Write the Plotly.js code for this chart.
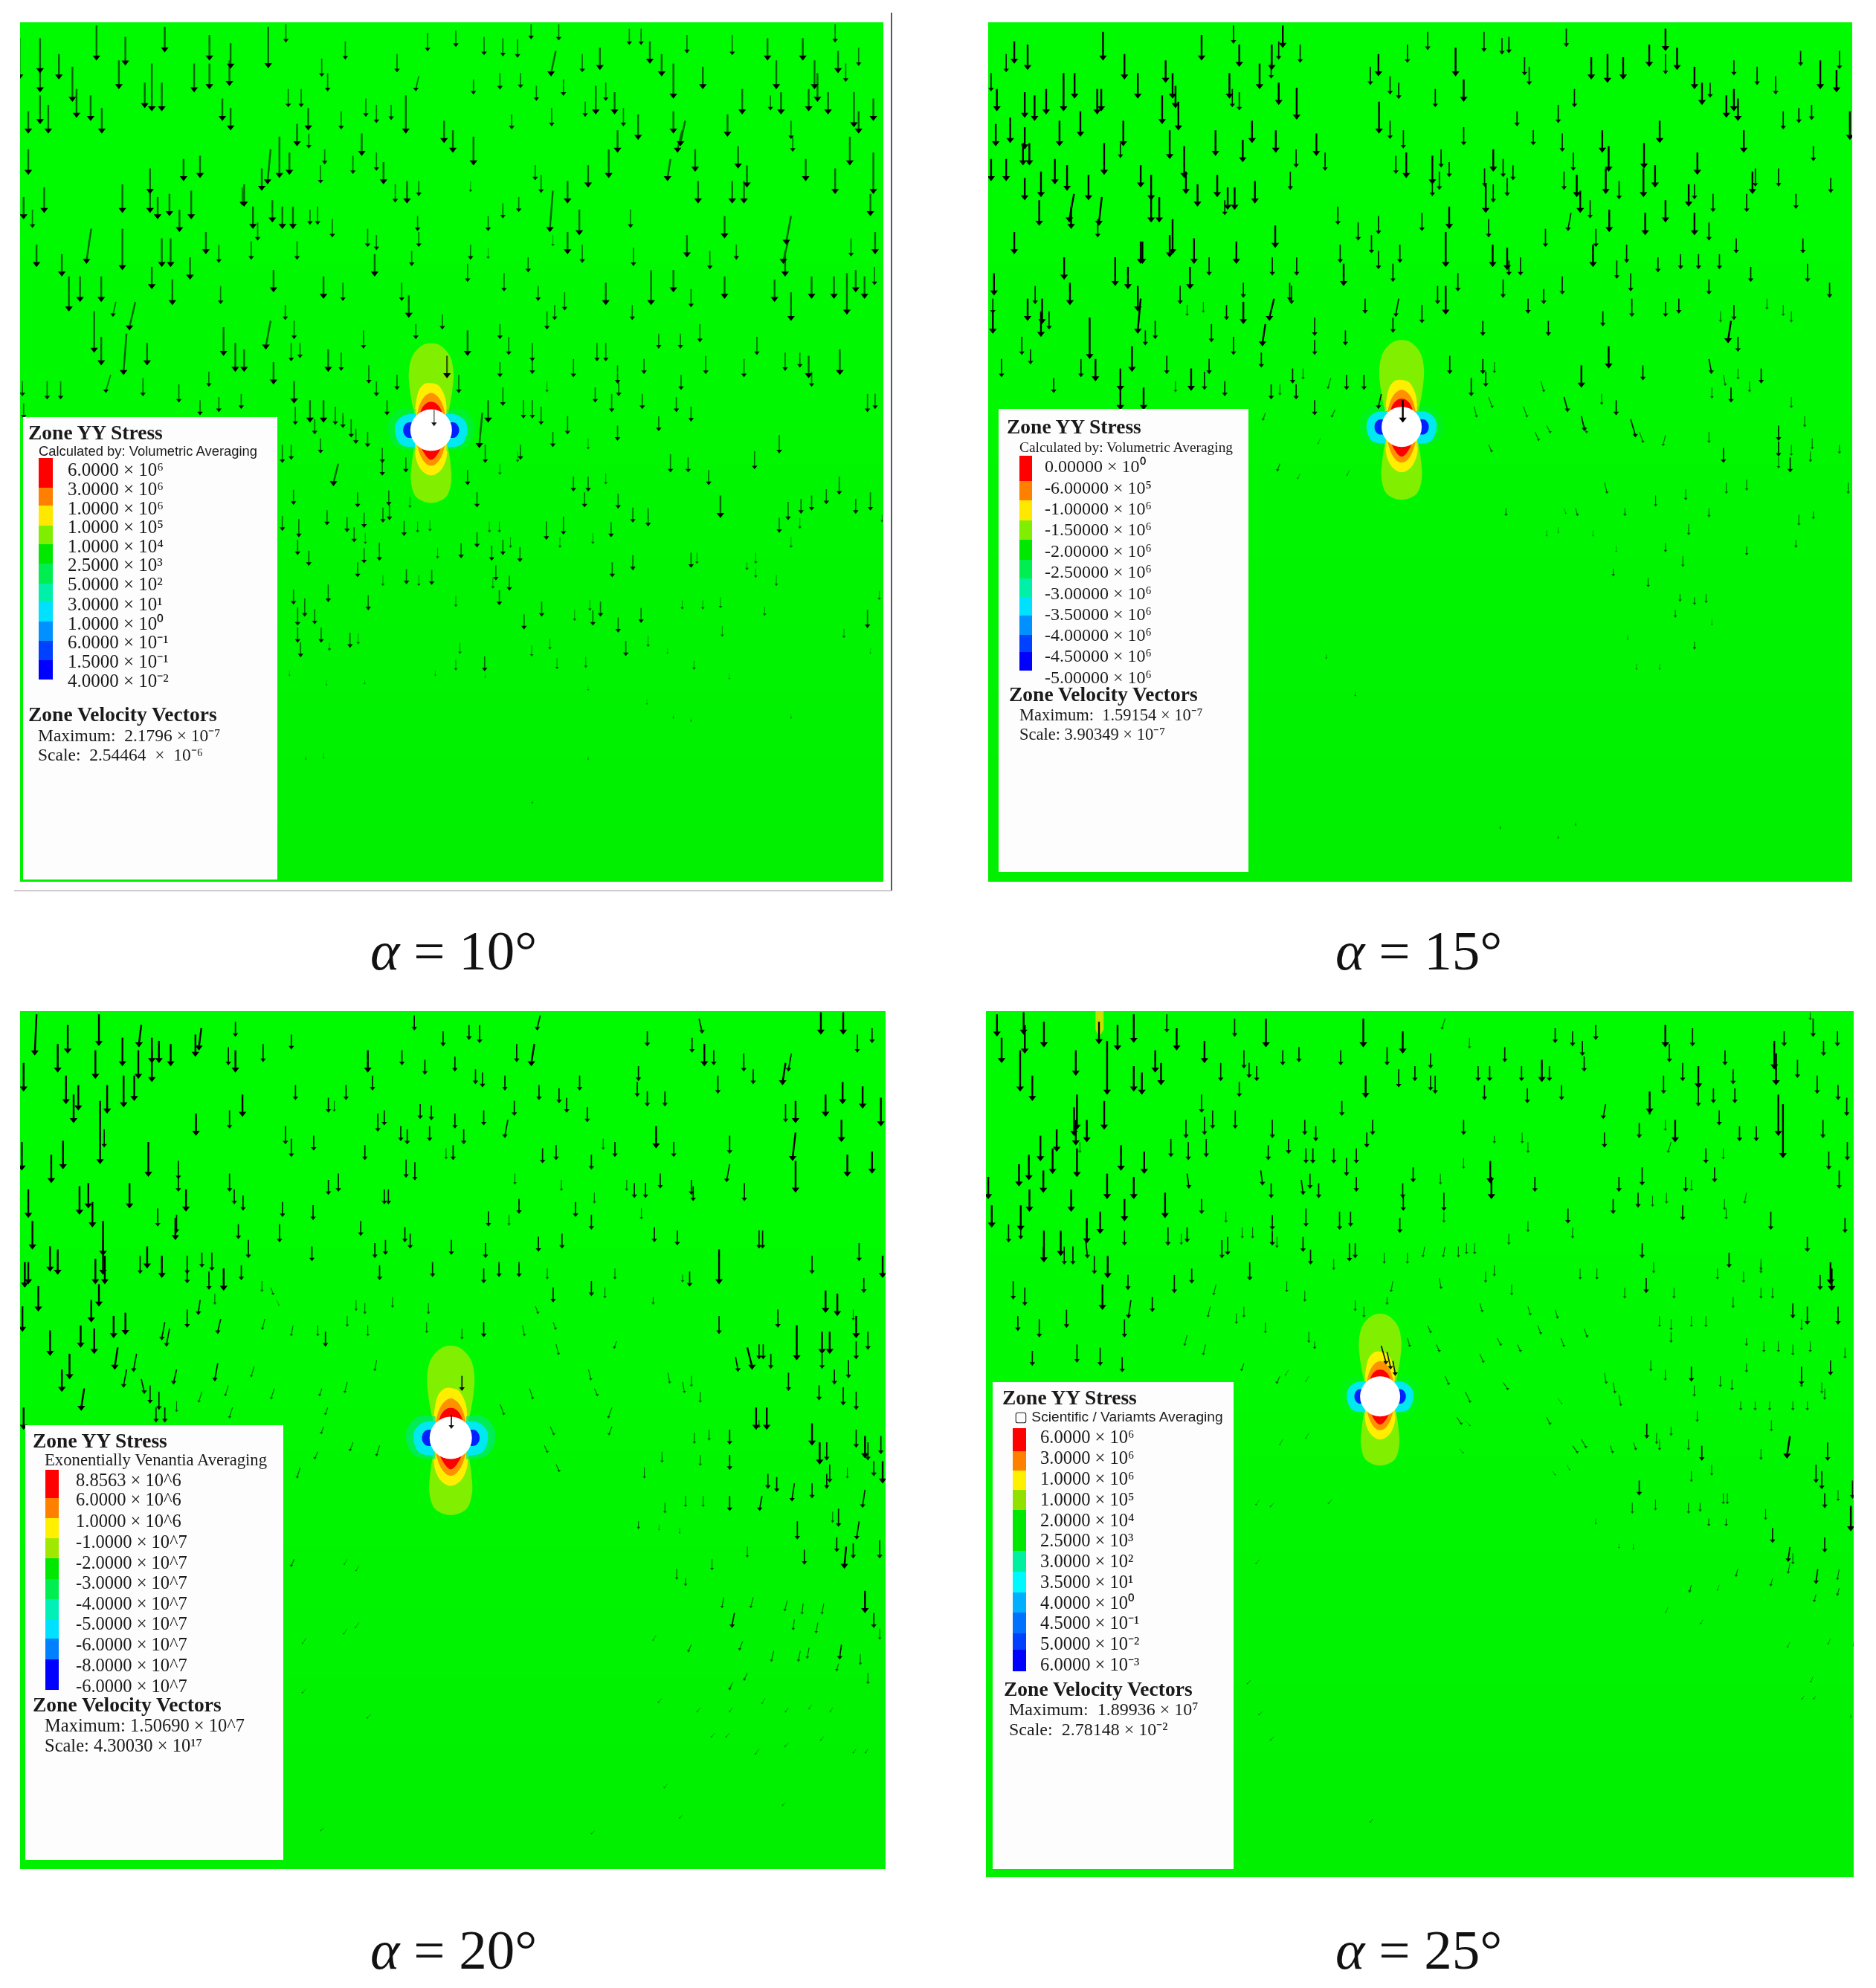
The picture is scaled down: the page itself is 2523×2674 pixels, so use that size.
<!DOCTYPE html>
<html><head><meta charset="utf-8">
<script src="https://cdn.plot.ly/plotly-3.0.1.min.js"></script>
<style>html,body{margin:0;padding:0;background:#fff}</style></head>
<body><div id="chart" style="width:2523px;height:2674px"></div>
<script>
// ---------- panel frames (pixels on the page) and axis ranges (reading units) ----------
const panelAngles = ["10","15","20","25"];
const panelLeft   = [27,1329,27,1326];
const panelRight  = [1188,2491,1191,2493];
const panelTop    = [30,30,1360,1360];
const panelBottom = [1186,1186,2514,2525];
const rangeX = [[34,1502],[37,1527],[34,1505],[33,1530]];
const rangeY = [[1388,35],[1388,35],[1380,23],[1392,23]];
const holeX = [733,750,766,713];
const holeY = [677,672,698,632];
const holeDiameter = [56,54,57,54];
const lobeScale = [1,1,1.06,0.95];
const sideScale = [1,0.97,1.03,0.92];
const tealOpacity = [0.35,0.2,0.7,0.15];
const lineFade = [0.6,1,1,1];
const captionX = [610,1908,610,1908];
const captionY = [1278,1278,2622,2622];

// ---------- stress bands around the hole: offsets in page pixels ----------
const topOuter   = [[-22,-18],[-28,-50],[-30,-78],[-25,-100],[-12,-114],[0,-117],[12,-114],[25,-100],[30,-78],[28,-50],[22,-18]];
const topYellow  = [[-22,-15],[-20,-40],[-15,-56],[-7,-63],[2,-63],[10,-60],[19,-43],[21,-15]];
const topOrange  = [[-20,-15],[-15,-35],[-8,-46],[0,-50],[8,-46],[15,-35],[20,-15]];
const topRed     = [[-16,-18],[-12,-30],[-5,-37],[0,-38],[5,-37],[12,-30],[16,-18]];
const botOuter   = [[-22,18],[-26,45],[-27,70],[-20,90],[0,98],[20,90],[27,70],[26,45],[22,18]];
const botYellow  = [[-22,15],[-20,40],[-12,55],[0,61],[12,55],[20,40],[22,15]];
const botOrange  = [[-20,15],[-14,35],[-7,45],[0,48],[7,45],[14,35],[20,15]];
const botRed     = [[-15,20],[-10,30],[-4,38],[0,40],[4,38],[10,30],[15,20]];
const sideTeal   = [[-20,-28],[-42,-28],[-56,-14],[-58,4],[-48,22],[-20,28]];
const sideCyan   = [[-20,-22],[-36,-20],[-47,-10],[-48,6],[-40,20],[-22,23]];
const sideBlue   = [[-22,-10],[-32,-10],[-37,-4],[-37,4],[-32,10],[-22,10]];
const bandOuterColor = "#80F000", bandYellow = "#FFEE00", bandOrange = "#FF9000", bandRed = "#FF0000";
const sideTealColor = "#00E878", sideCyanColor = "#00E8F0", sideBlueColor = "#0020FF";
const streak25X = [222,236,236,228,222];
const streak25Y = [23,23,52,64,52];
const greenRows = [1,1,0.95,0.8,0.7,0.6];

// ---------- velocity arrows: [x, y of tail, length, sideways drift] ----------
const arrows10 = [
[33,60,60],[68,60,50],[68,100,40],[100,85,35],[123,105,50],[164,40,50],[213,58,40],[280,42,35],[202,95,40],[258,100,70],[246,130,35],[275,130,40],[330,100,40],[356,55,35],[356,100,35],[392,68,35],[390,95,35],[456,42,60],[486,38,25],[547,92,25],[557,115,25],[587,65,25],[675,85,25],[727,52,25],[775,48,22],[823,58,25],[855,60,25],[880,62,25],[903,38,20],[950,38,22],[945,80,35,-8],[990,85,25],[1020,75,30],[1070,45,22],[1090,45,22],[1105,65,30],[1125,85,30],[1145,100,50],[1168,55,25],[1195,105,30],[1245,55,28],[1305,60,30],[1320,95,40],[1365,60,30],[1385,95,40],[1420,38,25],[1425,80,30],[1438,100,25],[1460,75,25],
[48,175,30],[68,150,40],[82,165,40],[130,140,40],[154,150,35],[173,170,35],[378,155,30],[392,170,30],[490,140,25],[512,140,25],[524,170,30],[580,175,25],[622,155,25],[640,165,25],[665,165,20],[690,150,55],[712,120,20,-5],[805,125,20],[850,115,22],[885,115,20],[912,135,20],[938,170,25],[958,125,22],[995,160,20],[1013,135,40],[1030,130,25],[1045,145,30],[1060,170,25],[1085,180,35],[1145,175,30],[1165,190,35,-8],[1237,180,30],[1262,140,35],[1310,150,20],[1328,145,30],[1345,190,25],[1375,140,30],[1390,115,40],[1408,145,30],[1452,145,50],[1460,175,30],[1485,155,30],
[48,235,35],[255,265,35],[312,250,30],[340,245,30],[415,290,30],[445,265,30],[460,235,50,-5],[475,215,60],[492,240,30],[505,195,30],[525,210,20],[545,260,25],[552,235,20],[600,245,25],[615,210,30],[640,240,25],[652,255,30],[672,290,25],[692,285,30],[712,285,20],[770,205,30],[805,215,40],[755,190,30],[870,180,20],[910,260,20],[920,275,25],[1000,260,30],[1035,235,40],[1050,205,30],[1140,250,30,-5],[1160,205,30,-8],[1182,235,30],[1187,285,30],[1255,230,30],[1270,260,30],[1245,285,30],[1265,285,30],[1348,215,20],[1370,250,30],[1420,265,35],[1445,215,40],[1485,240,60],[1480,305,30],
[40,310,30],[55,330,25],[75,295,35],[208,290,40],[255,300,30],[268,310,30],[288,305,30],[305,330,30],[325,300,40],[412,295,25],[430,325,30],[438,350,25],[463,315,30],[480,325,30],[498,325,30],[527,330,20],[540,325,25],[565,345,25],[625,360,25],[710,340,20],[800,285,15],[830,340,20],[855,320,20],[882,310,20],[940,300,60,-5],[965,285,30],[985,330,35],[1072,330,25],[1232,340,30],[1345,340,40,-8],[1340,380,30,-8],
[155,360,50,-8],[208,360,60],[62,385,30],[105,400,30],[275,375,40],[290,375,40],[350,365,30],[372,385,25],[427,380,25],[505,380,25],[640,370,20],[700,395,20],[712,365,20],[800,385,20],[830,390,15],[898,405,20],[940,370,15],[965,365,30],[990,385,25],[1077,390,25],[1168,370,30],[1207,395,25],[1252,385,20],[1335,395,35],[1447,375,25],[1488,365,30],
[117,435,50],[136,435,35],[172,435,35],[258,420,30],[293,440,35],[323,405,30],[375,450,25],[465,425,30],[550,435,30],[583,445,25],[637,400,30],[683,445,25],[695,465,30],[795,415,25],[857,430,25],[915,450,20],[960,460,25],[1030,445,30],[1075,480,20],[1107,425,50],[1145,425,30],[1175,455,25],[1232,435,30],[1317,440,30],[1345,460,40],[1380,435,30],[1418,435,30],[1440,430,60],[1455,425,30],[1470,435,30],[1487,420,25],
[160,490,60],[197,475,20,-5],[230,475,40,-10],[172,530,40],[215,525,60,-5],[250,540,30],[380,515,40],[400,540,40],[415,550,30],[460,505,40,-8],[485,480,20],[500,505,25],[510,540,20],[495,540,25],[558,550,30],[580,555,25],[618,520,25],[707,510,20],[752,495,20],[795,520,35],[850,510,20],[865,530,25],[905,540,25],[930,490,25],[943,480,20],[1015,540,25],[1030,540,25],[1120,525,20],[1157,525,20],[1190,510,25],[1200,560,25],[1287,530,25],[1265,565,25],[1335,555,25],[1360,555,20],[1375,560,30],[1428,550,35],
[188,590,25,-8],[243,595,25],[355,585,20],[304,605,25],[465,570,30],[500,600,30],[627,575,25],[675,590,20],[850,570,20],[905,565,20],[975,565,25],[1050,575,25],[1095,565,20],[1158,590,20],[1380,585,20],
[38,600,20],[80,600,25],[103,600,25],[40,635,20],[340,630,20],[372,625,20],[410,620,20],[502,640,25],[527,630,30],[550,630,30],[570,640,25],[583,650,20],[597,660,25],[640,600,20],[658,630,20],[760,560,30],[780,590,25],[830,630,30],[855,610,25],[890,630,25],[905,630,25],[920,640,25],[930,600,15],[965,655,25],[1012,610,20],[1040,620,25],[1052,600,20],[1092,620,20],[1120,655,20],[1150,625,20],[1175,640,20],[1475,620,25],[1488,620,20],[1325,685,25],
[480,700,25],[495,700,20],[535,660,20],[545,690,20],[605,675,20],[625,680,20],[650,705,20],[820,650,50,-5],[885,700,20],[940,680,20],[1000,690,15],[1050,670,20],[1283,710,25],[1140,715,25],[1170,720,20],
[575,730,30,-8],[650,725,20],[690,720,20],[795,740,20],[825,700,25],[850,730,15],[880,710,15],[975,750,20],[1000,750,20],[1030,745,15],
[1205,740,20],[1225,780,30],[1340,790,25],[1362,785,20],[1380,780,20],[1405,770,20],[1427,750,25],[1455,785,20],[1480,775,25],[1325,815,20],[1360,815,15],[1500,810,10],
[1175,870,20],[1185,870,15],[1285,870,15],[1270,885,10],[1345,845,15],[1320,905,15],[1285,895,12],[1225,940,15],[1160,945,12],[1195,945,12],[1228,985,15],[1300,955,12],[1435,990,12],[1475,960,25],[1495,930,12],[1180,1040,12],[1240,1060,8],[1480,1020,8],[1135,1020,8],
[499,771,20],[608,775,20],[661,772,20],[697,782,15],[811,775,20],[1051,777,20],[994,775,20],[556,803,20],[590,814,20],[619,807,20],[651,799,20],[662,795,20],[480,812,20],[508,817,25],[687,820,20],[710,821,15],[731,819,15],[832,821,15],[849,821,15],[929,821,25],[958,813,25],[1039,822,20],[1076,799,20],[1102,800,25],[602,830,20],[621,839,15],[1008,839,15],[811,838,20],[868,845,15],[645,854,25],[506,850,20],[619,863,20],[525,867,20],[744,862,15],[784,855,20],[855,850,20],[836,859,20],[884,861,20],[952,845,15],[1076,874,20],[608,885,20],[691,896,20],[734,897,20],[651,905,15],[712,905,15],[843,890,20],[866,906,20],[838,909,15],[1041,885,20],[558,920,24],[499,928,20],[518,942,25],[626,937,20],[775,938,15],[849,929,20],[921,947,20],[1003,944,15],[1021,947,20],[977,960,15],[1090,957,20],[1008,961,20],[506,956,25],[535,959,20],[891,967,20],[1051,972,20],[506,988,20],[546,988,20],[595,996,20],[609,997,15],[560,1012,10],[511,1011,20],[782,1012,15],[935,1005,15],[1102,1001,15],[1064,1009,20],[824,1033,20],[775,1038,15],[947,1036,15],[996,1034,15],[904,1016,15],
[492,1055,8],[555,1070,8],[620,1070,6],[740,1055,8],[825,1060,6],[1000,1080,6],[1100,1100,8],[1145,1125,5],[1345,1125,5],[1175,1130,5],[550,1185,8],[520,1190,5],[1000,1190,5],[905,1260,4],
[738,645,22]
];
const arrows15 = [
[460,40,25],[545,40,30],[68,85,25],[82,65,30],[105,70,35],[235,50,40],[405,55,35],[470,70,30],[526,70,35],[538,65,25],[575,70,25],[760,70,25],[795,50,25],[892,50,28],[923,60,22],[935,58,22],[1034,45,25],[1177,70,30],[1205,45,30],[1205,85,28],[1225,75,30],[1438,80,20],[1472,95,40],[1505,80,25],
[272,85,35],[343,95,30],[696,105,25],[710,85,30],[843,75,40],[962,90,25],[970,105,25],[1077,90,30],[1105,85,40],[1132,90,30],[1255,105,30],[1323,95,20],[1363,105,25],[1395,120,25],[1500,110,30],
[42,115,25],[52,140,30],[100,145,35],[117,150,35],[137,140,35],[167,115,55],[186,115,35],[225,140,35],[232,140,30],[295,115,35],[355,115,35],[360,135,30],[453,115,35],[505,100,35],[525,100,20],[458,140,25],[470,145,25],[538,130,30],[569,138,45],[730,120,25],[745,130,22],[808,140,25],[857,125,30],[1048,140,25],[1268,130,30],[1282,130,20],[1310,150,30],[1323,140,30],[1330,155,30],
[337,150,40],[365,160,40],[196,175,35],[711,160,45],[730,190,25],[1020,165,25],[949,175,20],[1408,175,25],[1435,170,20],[1457,165,20],[1523,175,40],
[50,195,30],[75,185,35],[160,190,35],[100,200,30],[270,190,35],[350,205,40],[429,205,35],[492,190,30],[533,205,30],[603,210,30],[753,205,25],[857,200,25],[977,205,20],[1027,210,25],[1096,205,30],[1195,190,30],[1340,205,30],[1460,230,20],
[97,225,30],[108,225,30],[237,225,45],[265,225,20],[375,230,45],[476,220,30],[568,235,25],[618,240,25],[740,245,25],[758,240,35],[803,245,40],[818,235,25],[832,255,20],[893,265,25],[908,235,30],[925,250,25],[942,260,20],[1046,240,25],[1107,230,35],[1168,225,35],[1260,240,30],[1360,265,25],
[42,250,30],[68,250,30],[152,250,35],[173,260,35],[300,260,30],[128,270,35],[185,305,40,-8],[210,275,35],[318,275,35],[378,270,30],[432,275,30],[450,295,30],[462,295,30],[497,285,30],[558,270,25],[803,280,25],[815,270,25],[1030,270,25],[1052,275,30],[1102,265,35],[1125,285,25],[1167,265,40],[1187,260,30],[1245,290,30],[1255,290,20],[1355,270,30],[1400,265,25],[1490,280,20],
[100,280,30],[233,310,40,-5],[398,290,30],[318,310,35],[332,310,35],[445,315,20],[895,290,40],[908,290,25],[932,280,25],[1058,300,30],[1075,315,25],[1042,335,25,-5],[1108,330,30],[1170,335,30],[1205,315,30],[1287,305,25],[1345,305,25],[1430,305,20],
[125,315,35],[180,325,30],[640,325,25],[710,340,25],[832,325,30],[785,335,25],[900,345,25],[1255,335,30],[1280,350,25],
[82,365,30],[226,345,25],[532,355,30],[355,345,50],[350,370,30],[392,375,35],[303,380,30],[465,380,30],[675,350,25],[826,365,50],[698,370,25],[644,385,25],[710,395,25],[747,385,25],[907,385,30],[998,360,25],[1080,385,30],[1085,360,25],[1138,385,25],[1327,375,20],[1442,375,20],
[168,405,30],[256,405,40],[278,420,30],[300,380,30],[418,405,25],[527,405,25],[569,405,25],[650,415,30],[735,415,25],[932,390,30],[935,410,20],[955,405,25],[1121,410,25],[1145,430,25],[1192,405,20],[1231,400,20],[1262,400,20],[1298,400,20],[1352,420,20],[1450,415,25],
[47,430,30],[178,445,30],[295,450,35],[385,420,30],[477,445,20],[557,445,25],[847,430,25],[812,450,25],[826,450,40],[925,440,25],[995,455,20],[1027,435,25],[1280,440,20],[1488,445,20],
[45,470,20],[105,470,30],[118,450,25],[130,470,35],[142,490,25],[300,470,50,-5],[368,450,25],[380,480,15],[408,475,15],[448,480,20],[477,475,30],[530,470,30,-8],[560,450,25],[687,470,20],[745,470,25,-5],[785,480,25],[968,470,20],[1097,490,20],[1147,470,25],[1205,475,20],[1228,470,20],[1323,480,20],[1380,470,15],[1408,480,15],[1422,490,15],[1300,490,15],
[45,490,30],[128,490,35],[212,500,60],[325,505,25],[422,510,25],[515,510,30,-5],[600,500,25],[735,500,20],[890,505,20],[1003,505,20],[1318,505,30,-5],
[95,530,25],[308,520,20],[460,530,25],[600,535,20],[653,520,20],[1107,545,30],[1330,530,20],
[60,565,25],[110,550,20],[285,545,35],[197,565,25],[222,565,30],[265,580,30],[345,560,25],[387,580,30],[410,585,25],[418,565,20],[508,555,20],[562,580,20],[580,580,15],[833,560,25],[890,565,20],[910,570,15],[1060,575,30],[1166,575,20],[1280,565,20,4],[1305,590,15,3],[1330,580,15],[1370,580,20],
[150,595,20],[360,600,15],[445,600,20],[525,605,20],[540,605,15],[568,605,20],[600,630,20],[628,595,15,-5],[655,590,20],[685,590,20],[715,620,20,-5],[870,595,25],[895,585,20],[990,600,15,5],[1030,625,20,6],[1095,620,15],[1120,630,20],[1285,610,15],[1318,610,20],[1350,600,15],[1422,625,15],
[265,610,30],[305,610,30],[635,645,10,-5],[875,640,15,4],[900,625,15,6],[960,640,15,6],[1060,655,20,5],[1145,660,25,8],[1280,680,15],[1400,670,20],[1445,655,15],
[515,650,10,-4],[610,690,8,-4],[980,680,12,6],[1000,670,10,6],[1205,685,15,-4],[1305,705,20],[1160,680,15,6],[1400,695,20],[1422,700,15],[1458,690,15],[1505,700,12],[1065,670,10,4],
[540,730,10,-4],[575,745,8,-4],[660,740,8,-4],[900,700,10,5],[1100,760,15,4],[1188,780,15],[1240,770,15],[1310,760,15],[1345,755,15],[1400,720,15],[1420,720,20],[1455,710,15],[1520,760,15],[1050,800,10,3],[1030,800,8,3],[1135,800,10],[1280,800,12],[1435,810,15],[1460,805,10],
[930,800,10],[1000,835,8],[1205,855,12],[1245,825,15],[1345,860,12],[1430,850,10],[1120,860,8],[1080,835,8],[1235,875,15],[1115,895,10],[1175,910,12],[1230,935,10],[1255,940,10],[1275,935,12],[1222,960,10],[1285,975,8],[1255,1010,10],[1155,1045,8],[1195,1045,8],[1020,830,8],[920,1300,4],[1020,1315,4],[1050,1295,4],[620,1030,6],[670,1090,5],[1140,1000,6],
[752,630,30]
];
const arrows20 = [
[62,28,60,-3],[115,45,40],[98,75,40],[168,28,45],[208,65,40],[240,45,30,-4],[258,65,35],[270,70,30],[290,75,30],[332,60,30],[342,50,30,-4],[162,85,40],[235,85,40],[258,85,45],[40,105,40],[112,125,40],[133,140,35],[125,155,40],[182,140,40],[210,125,45],[228,125,35],[170,165,95],[177,210,25],[333,185,30],[390,180,25],[412,155,30],[400,40,20],[388,80,25],[400,85,30],[447,75,25],[495,60,20],[625,85,30],[683,85,20],[704,30,20],[722,100,20],[753,55,20],[773,95,20],[797,45,20],[815,45,25],[878,75,25],[908,75,30,-5],[918,30,20,-5],[1100,55,20],[1176,65,20],[1188,35,20,5],[1197,75,30],[1213,85,20],[1264,90,25],[1280,115,20],[1335,105,30,-5],[1345,90,25,-5],[1395,25,30],[1433,25,30],[1457,60,25],[1482,50,20],
[502,140,20],[558,160,20],[568,165,15],[588,140,20],[633,125,20],[808,115,20],[820,120,20],[858,125,20],[916,140,20],[950,145,20],[963,160,20],[985,125,20],[998,175,20],[1085,110,20],[1083,135,20],[1100,150,20],[1130,150,20],[1220,125,25],[1432,135,30],[1466,142,30],[1403,155,30],[1497,160,40],[1335,170,25],[1352,165,30],
[485,205,25],[495,225,25],[533,220,20],[642,185,25],[653,180,20],[681,205,20],[692,210,20],[714,170,20],[733,172,20],[730,205,20],[773,185,20],[788,210,20],[822,180,20],[863,195,25,-5],[874,165,20],[1115,205,30],[1430,195,30],[1352,215,40,-5],
[37,230,40],[107,228,40],[87,250,40],[252,230,50],[303,260,25],[303,285,20],[620,235,20],[690,258,25],[705,262,25],[758,240,15],[770,235,20],[922,240,20],[945,235,20],[1005,250,20],[1025,225,15],[1045,230,20],[1145,230,20],[1240,220,25],[1240,265,25,-5],[1352,260,45],[1440,250,30],[1482,245,30],
[48,305,40],[135,300,40],[150,295,35],[157,325,35],[220,295,35],[316,305,30],[390,280,25],[398,305,20],[413,315,20],[532,330,20],[575,280,25],[558,290,20],[653,305,20],[660,305,20],[875,280,15],[954,290,15],[1065,290,15],[1078,295,20],[1097,295,20],[1122,280,20],[1175,290,20],[1178,300,20],[1265,295,25],[1010,310,15],
[55,355,40],[268,335,25],[300,345,25],[298,350,30],[405,360,20],[480,325,20],[475,360,25],[613,355,20],[688,365,20],[697,375,20],[830,340,20],[865,345,15],[882,320,20],[978,325,20],[1005,345,20],[1090,335,15],[1112,365,20],[1151,370,20],[1290,370,25],[1296,370,25],
[175,355,50],[175,385,50],[85,395,35],[98,400,35],[250,395,30],[238,410,25],[275,410,30],[343,405,20],[360,405,25],[422,385,25],[530,395,20],[637,390,20],[655,385,20],[767,385,20],[825,390,20],[915,380,20],[955,375,20],[1460,390,25],[1500,410,30],[178,410,40],[318,410,25],
[42,420,35],[48,420,30],[65,458,35],[162,415,35],[168,455,30],[318,430,20],[355,435,25],[380,430,30],[410,425,20],[645,425,20],[735,420,20],[882,420,20],[848,420,20],[822,430,20],[930,430,15],[1005,450,20],[1045,430,15],[1172,435,20],[1222,400,50],[1380,410,25],[1160,440,10],[1028,460,15],
[38,490,35],[155,480,30],[193,505,30],[213,500,30],[340,480,20,-3],[318,495,25],[365,470,15],[445,450,15],[460,460,10,4],[470,480,8,4],[605,480,15],[620,485,15],[667,475,15],[728,485,15],[910,490,10,4],[940,460,20],[1110,475,10],[1403,465,30],[1423,470,30],[1468,445,20],[1450,495,15],
[85,528,35],[137,520,30],[160,525,35],[280,515,25,-5],[288,525,25,-5],[375,510,20,-5],[450,510,15,-4],[498,520,15,-3],[540,520,15],[553,530,20],[590,505,15],[625,520,15],[725,515,15],[785,525,15],[822,515,20],[888,520,15,3],[940,515,10,4],[1222,505,25],[1322,495,25],[1354,520,50],[1397,530,30],[1410,530,30],[1455,505,30],[1475,530,25],[1290,550,20],
[118,565,35],[105,590,30],[200,555,30,-5],[232,565,25,-5],[215,590,25,-5],[300,590,20,-5],[370,580,25,-5],[432,585,15,-5],[640,575,15,-3],[785,600,20],[945,550,15,4],[1000,590,15,4],[1048,545,10,-4],[1250,570,20,4],[1270,555,30,8],[1297,550,20],[1310,565,20],[1397,565,20],[1455,545,25],[1442,575,25],
[143,620,30,-5],[240,605,20,5],[255,615,25],[270,625,25],[280,650,20],[300,640,15],[343,625,15,-5],[388,615,15,-5],[466,620,15,-5],[547,620,10,-4],[590,610,15,-4],[900,620,15,5],[1010,620,10,5],[1135,595,15,3],[1160,610,15,3],[1190,625,15],[1340,595,25],[1418,590,20],[1392,615,20],[1433,618,25],[1455,625,25],[1175,600,15],
[40,650,30],[265,650,20],[395,650,15,-5],[557,650,10,-4],[850,645,15,6],[935,680,12,6],[1040,650,15,-6],[1285,650,30],[1303,650,30],[1240,685,20],[1180,690,15],[1205,685,15],[1380,675,30],[1455,685,25],[1470,695,30],[1497,695,25],[1393,705,30],[1405,705,25],[1475,705,25],[1290,670,10],
[550,680,10,-4],[600,705,12,-5],[645,710,15,-5],[925,710,10,5],[1040,680,12,-5],[1125,720,15],[1190,725,15],[1240,725,20],[1410,740,25],[1440,745,15],[1485,735,20],[1500,735,30],
[510,745,15,-5],[540,720,10,-5],[945,740,10,5],[1095,745,15],[1130,800,15],[1165,790,15],[1195,790,15],[1240,790,20],[1305,755,20],[1320,760,20],[1350,770,25,-4],[1380,770,20],[1295,790,20,-4],[1405,755,20],[1470,780,25,-4],
[1085,830,10],[1120,835,8],[1155,840,8],[1355,830,25],[1425,810,25],[1415,815,15],[1460,830,25,-4],[1438,870,30,-3],[1495,860,25],[1422,855,20],[1270,870,15],[1367,875,20],[1210,890,15],[1450,865,20],
[500,890,10,-5],[590,890,8,-5],[610,900,8,-5],[1150,905,15],[1165,920,10],[1470,940,30],[1365,960,15,-2],[1338,955,15,-4],[1248,975,20,-4],[1280,950,15,-4],[1230,950,15,-3],[1400,960,15,-3],[1350,985,15,-2],[1390,990,15,-3],[1485,975,20],[1495,1000,15],
[520,1015,8,-6],[590,1000,8,-6],[610,990,8,-6],[1115,1010,8,-5],[1175,1025,10,-5],[1262,1020,12,-5],[1315,1035,15,-4],[1375,1030,15,-3],[1430,1025,20,-3],[1462,1040,15],[1475,1070,15],[1425,1055,10,-3],[1360,1035,15,-3],[1270,1070,10,-5],[1245,1085,10,-5],[1300,1110,8,-5],
[520,1095,6,-6],[630,1135,6,-6],[1125,1110,6,-6],[1190,1125,6,-5],[1245,1125,6,-5],[1340,1125,6,-5],[1380,1120,6,-5],[1415,1125,6,-4],[1215,1165,6,-6],[1240,1165,6,-6],[1290,1190,8,-6],[1340,1180,6,-6],[1400,1170,6,-5],[1455,1190,6,-5],[1475,1190,6,-4],[1135,1245,6,-6],[1335,1275,4,-5],[550,1315,4,-5],[1010,1320,4,-5],[1160,1295,4,-5],
[767,662,18]
];
const arrows25 = [
[52,28,30],[60,65,35],[98,25,30],[100,45,40],[133,40,35],[228,40,30],[260,45,35],[288,28,40],[345,28,25],[362,50,30],[410,70,30],[462,35,25],[516,35,40],[545,85,20],[573,80,20],[645,85,20],[684,35,40],[725,80,25],[752,55,30],[800,90,20],[825,35,15,-5],[867,65,15],[928,80,20],[1015,50,20],[1045,55,20],[1062,70,20],[1085,45,20],[1205,45,30],[1212,75,25],[1252,50,25],[1308,85,20],[1393,70,40],[1410,55,20],[1460,35,25],[1455,25,10],[1478,70,20],[1502,55,20],
[92,85,60],[113,125,35],[188,85,35],[242,70,80],[288,110,35],[302,120,30],[325,85,30],[335,105,30],[190,155,50],[185,175,40],[237,165,40],[438,105,25],[478,85,25],[487,105,20],[500,110,20],[470,135,20],[688,125,30],[745,115,25],[773,110,20],[800,125,20],[808,125,25],[882,110,20],[902,110,20],[893,140,20],[957,110,20],[967,145,20],[992,100,30],[1005,110,20],[1026,140,20],[1065,95,20],[1178,150,30],[1202,125,25],[1235,105,25],[1262,110,30],[1262,145,25],[1288,145,20],[1325,145,20],[1322,115,20],[1400,155,60],[1433,100,25],[1467,125,25],[1503,140,20],[1518,160,25],[1396,90,45],
[405,155,25],[424,180,25],[463,180,25],[647,165,20],[700,195,20],[1102,170,20,-4],[1408,170,80],[1298,180,20],[1178,170,15],
[188,195,35],[207,195,30],[378,195,25],[410,190,25],[527,195,25],[583,195,20],[602,205,20],[857,195,20],[1160,200,20],[1205,195,15],[1222,195,30],[1333,205,20],[1362,205,20],[1477,195,25],
[127,220,35],[155,210,30],[195,230,15],[352,225,25],[382,230,25],[413,225,25],[520,235,20],[555,225,20],[585,240,20],[597,240,20],[633,240,20],[655,255,25],[672,240,20],[690,215,20],[910,220,10],[958,215,15],[968,230,15],[1100,215,20],[1215,230,15,-5],[1275,240,20],[1305,240,15],[1487,245,25],[1519,230,25],
[90,265,30],[107,250,35],[148,240,35],[190,240,40],[266,235,35],[306,245,30],[857,255,15],[770,270,20],[817,280,15],[903,260,30],[1125,285,20],[1165,270,25],[1240,285,20],[1250,290,15],[1290,270,20],[1505,275,25],
[132,275,30],[242,280,35],[288,285,30],[380,280,20,3],[507,275,20,3],[37,285,30],[525,295,20],[577,290,20,3],[592,280,20],[607,295,20],[672,285,20],[752,295,20],[905,285,30],[980,285,20],[1345,310,15,-3],
[180,305,30],[108,305,30],[342,310,35],[405,320,20],[753,315,20],[823,310,25],[1115,320,20],[1158,310,20],[1183,315,15],[1207,310,15],[1307,320,15],
[43,330,30],[93,330,35],[207,350,35],[230,340,30],[272,320,30],[447,340,15],[527,345,20],[585,335,25],[643,340,25],[662,340,20],[747,350,20],[823,340,15],[1037,335,20],[1310,335,15],[1387,340,25],[1235,330,20],
[72,360,25],[93,355,25],[133,370,45],[162,370,35],[132,395,20],[347,365,25],[272,370,20],[370,375,15],[380,365,20],[440,385,25],[475,365,15],[493,365,15],[527,370,20],[580,380,20],[935,375,15],[968,355,15],[1045,365,15],[1515,350,20],
[205,385,25,3],[168,395,25],[183,395,25],[220,410,25],[243,410,30],[450,380,25],[535,380,15],[593,400,20],[660,390,25],[670,390,20],[760,405,15],[790,395,15,-3],[825,395,15,-3],[848,395,15],[862,390,15],[876,390,15],[1165,390,20],[1315,405,20],[1370,420,15],
[633,415,15],[720,405,15],[1185,420,15],[1295,430,15],[1450,380,20],[1490,420,30],[1472,440,20],[895,435,15],[910,425,15],[1058,430,15],[1087,430,15],[1172,445,20],[1340,435,15],[1370,415,15],
[358,440,25],[388,430,20],[80,450,25],[100,460,25],[234,455,35],[278,440,20],[430,455,15,-4],[488,420,25],[552,450,15],[583,465,15],[735,450,15,-3],[815,445,15,3],[940,455,15],[1135,460,15],[1220,460,15],[1322,475,15],[1390,460,15],[1492,430,30],[1370,460,15],
[172,495,25],[283,480,25,-4],[320,475,20],[420,490,15,-4],[478,490,15],[88,505,20],[125,510,25],[272,510,25],[465,500,15],[670,480,15],[685,490,15],[725,475,10],[885,485,12,4],[968,490,12,4],[1015,495,12,4],[1425,485,20],[1503,490,25],[1450,490,25],[1195,505,15],[1215,510,15],[1250,505,15],[1275,505,15],[1440,510,15],
[380,535,15,-4],[412,550,15,-4],[515,515,15],[590,530,15],[600,545,10],[760,540,12,4],[795,520,10,5],[915,540,10,6],[985,520,12,5],[1025,540,12,5],[1065,525,12,5],[1345,540,10],[1375,545,15],[1400,545,15],[1425,550,15],[1455,545,15],[1215,530,15],
[190,550,25],[230,555,25],[113,560,20],[268,570,20],[478,580,10,-4],[1180,575,15],[1205,590,15],[1250,585,20],[1300,600,15],[1345,580,12],[1440,585,25],[1490,575,20],[1515,555,15],[810,550,10,5],[885,565,12,6],[950,550,10,5],
[540,600,10,-5],[555,590,8,-5],[590,600,8,-5],[825,600,12,6],[860,625,15,8],[925,610,10,8],[1100,595,15,3],[1115,610,15,3],[1255,615,15],[1320,605,15],[1440,600,15],[1475,610,15],[1480,620,15],
[845,665,10,8],[860,670,8,8],[1000,665,10,6],[1020,635,8,6],[1125,630,15,3],[1335,640,12],[1360,640,12],[1385,640,12],[1425,640,12],[1450,640,12],[1260,655,15],[1190,690,15],[1173,675,20],[1215,680,12],[1388,670,15],
[590,690,8,-5],[545,700,8,-5],[1060,700,12,8],[1045,710,10,8],[1110,710,10,4],[1150,705,10,4],[1195,700,15],[1245,700,15],[1268,710,20],[1420,695,30,-5],[1485,705,25],[1370,715,15],
[850,715,6,6],[1010,750,6,5],[1035,740,8,5],[1285,740,15],[1465,740,25],[1475,750,25],[1250,750,15],[1160,765,20],[1528,765,25],
[505,795,8,-6],[530,800,6,-6],[630,795,6,-6],[1148,800,15],[1188,795,15],[1245,800,15],[1265,800,12],[1305,785,15],[1312,785,15],[1378,810,15],[1480,785,20],[1503,780,15],[1525,805,35],
[1085,825,8],[1150,865,8],[1125,865,6],[1280,825,10],[1310,825,10],[1390,840,20],[1420,870,20,-3],[1480,855,20],[505,890,6,-6],[1420,895,15,-3],[1425,880,15],
[1330,905,10,-3],[1468,905,20,-3],[1505,905,15,-3],[1250,930,10,-3],[1298,930,8,-3],[1390,920,10,-3],[1465,945,10,-3],[1505,935,10,-3],[1210,965,8,-4],[1270,985,6,-4],
[1420,1020,8,-4],[1530,1020,6],[1490,1015,8,-4],[1460,1075,8,-4],[1445,1105,5,-4],[1465,1105,5,-4],[1525,1135,4],[490,1080,6,-6],[530,1170,5,-6],[510,1130,5,-6],[700,1300,5,-4],
[715,552,26,8],[725,562,24,6],[735,576,20,4]
];
const allArrows = [arrows10, arrows15, arrows20, arrows25];

// ---------- legends ----------
const colorsStress = ["#FF0000","#FF8000","#FFE800","#80EE00","#00E800","#00EE50","#00F0A8","#00E0FF","#0090FF","#0040FF","#0000FF"];
const colors25 = ["#FF0000","#FF8000","#FFF000","#90E000","#00E800","#00E800","#00F0A0","#00F8FF","#00B0FF","#0070FF","#0040FF","#0000FF"];
const colors20 = ["#FF0000","#FF8000","#FFF000","#A0E800","#00E800","#00EE50","#00F0B8","#00E0FF","#0080FF","#0000FF"];
const legendLeft  = [31,1343,34,1335];
const legendRight = [373,1679,381,1659];
const legendTop   = [561,550,1917,1859];
const legendBottom= [1183,1173,2502,2514];
const barLeft  = [52,1371,61,1362];
const barRight = [71,1388,79,1380];
const bar10 = [616,656,680,707,732,758,785,810,836,862,888,914];
const bar15 = [613,647,673,700,726,753,778,803,828,854,877,902];
const bar20 = [1977,2015,2042,2069,2096,2124,2151,2178,2204,2232,2273];
const bar25 = [1921,1952,1978,2004,2031,2058,2086,2114,2142,2169,2197,2219,2248];
const barEdges = [bar10,bar15,bar20,bar25];
const barColors = [colorsStress,colorsStress,colors20,colors25];

const labels10 = ["6.0000 × 10⁶","3.0000 × 10⁶","1.0000 × 10⁶","1.0000 × 10⁵","1.0000 × 10⁴","2.5000 × 10³","5.0000 × 10²","3.0000 × 10¹","1.0000 × 10⁰","6.0000 × 10⁻¹","1.5000 × 10⁻¹","4.0000 × 10⁻²"];
const labels15 = ["0.00000 × 10⁰","-6.00000 × 10⁵","-1.00000 × 10⁶","-1.50000 × 10⁶","-2.00000 × 10⁶","-2.50000 × 10⁶","-3.00000 × 10⁶","-3.50000 × 10⁶","-4.00000 × 10⁶","-4.50000 × 10⁶","-5.00000 × 10⁶"];
const labels20 = ["8.8563 × 10^6","6.0000 × 10^6","1.0000 × 10^6","-1.0000 × 10^7","-2.0000 × 10^7","-3.0000 × 10^7","-4.0000 × 10^7","-5.0000 × 10^7","-6.0000 × 10^7","-8.0000 × 10^7","-6.0000 × 10^7"];
const labels25 = ["6.0000 × 10⁶","3.0000 × 10⁶","1.0000 × 10⁶","1.0000 × 10⁵","2.0000 × 10⁴","2.5000 × 10³","3.0000 × 10²","3.5000 × 10¹","4.0000 × 10⁰","4.5000 × 10⁻¹","5.0000 × 10⁻²","6.0000 × 10⁻³"];
const labelY10 = [631,657,683,708,734,760,786,812,838,863,889,915];
const labelY15 = [627,656,684,712,741,769,798,826,854,882,911];
const labelY20 = [1990,2017,2045,2073,2101,2128,2156,2183,2211,2239,2267];
const labelY25 = [1932,1960,1988,2016,2044,2071,2099,2127,2155,2182,2210,2238];
const allLabels = [labels10,labels15,labels20,labels25];
const allLabelY = [labelY10,labelY15,labelY20,labelY25];
const labelX = [91,1405,102,1399];
const labelSize = [25,24,24.5,24.5];

const stressTitle = "Zone YY Stress";
const velocityTitle = "Zone Velocity Vectors";
const subtitles = ["Calculated by: Volumetric Averaging","Calculated by: Volumetric Averaging","Exonentially Venantia Averaging","▢ Scientific / Variamts Averaging"];
const subFonts = ["Liberation Sans","Liberation Serif","Liberation Serif","Liberation Sans"];
const subSizes = [18.4,19.4,22.7,19.2];
const subX = [52,1371,60,1364];
const subY = [606,602,1964,1905];
const titleX = [38,1354,44,1348];
const titleY = [581,574,1937,1879];
const velocityX = [38,1357,44,1350];
const velocityY = [960,933,2292,2271];
const maxTexts = ["Maximum:  2.1796 × 10⁻⁷","Maximum:  1.59154 × 10⁻⁷","Maximum: 1.50690 × 10^7","Maximum:  1.89936 × 10⁷"];
const scaleTexts = ["Scale:  2.54464  ×  10⁻⁶","Scale: 3.90349 × 10⁻⁷","Scale: 4.30030 × 10¹⁷","Scale:  2.78148 × 10⁻²"];
const maxX = [51,1371,60,1357];
const maxY = [989,962,2320,2299];
const scaleY = [1015,988,2347,2326];
const noteSize = [23.5,22.5,24.5,24];

// ---------- assembly ----------
const W = 2523, H = 2674;
const traces = [], shapes = [], annotations = [];
const layout = {width:W,height:H,margin:{l:0,r:0,t:0,b:0},paper_bgcolor:"#fff",plot_bgcolor:"#fff",showlegend:false,shapes,annotations};

function px(xp){return xp/W}
function py(yp){return 1-yp/H}
function text(t,xp,yp,size,family,bold){
  annotations.push({text:t,x:px(xp),y:py(yp),xref:"paper",yref:"paper",xanchor:"left",yanchor:"middle",showarrow:false,align:"left",
    font:{size:size,family:family,color:"#1a1a1a",weight:bold?700:400},borderpad:0,borderwidth:0});
}

panelAngles.forEach((ang,i)=>{
  const s = i===0?"":String(i+1);
  layout["xaxis"+s] = {domain:[px(panelLeft[i]),px(panelRight[i])],range:rangeX[i],visible:false,fixedrange:true,anchor:"y"+s};
  layout["yaxis"+s] = {domain:[py(panelBottom[i]),py(panelTop[i])],range:rangeY[i],visible:false,fixedrange:true,anchor:"x"+s};
  const xa="x"+s, ya="y"+s;
  const ux=(rangeX[i][1]-rangeX[i][0])/(panelRight[i]-panelLeft[i]);
  const uy=(rangeY[i][0]-rangeY[i][1])/(panelBottom[i]-panelTop[i]);

  // green field
  const rows = greenRows.map((_,k)=>rangeY[i][1]+(rangeY[i][0]-rangeY[i][1])*k/(greenRows.length-1));
  traces.push({type:"heatmap",xaxis:xa,yaxis:ya,x:rangeX[i],y:rows,z:greenRows.map(v=>[v,v]),zsmooth:"best",zmin:0,zmax:1,showscale:false,hoverinfo:"skip",
    colorscale:[[0,"rgb(0,224,0)"],[1,"rgb(0,250,0)"]]});

  // stress bands
  const band=(outline,color,sx,sc,sm)=>{
    const xs=outline.map(p=>holeX[i]+sx*p[0]*sc*ux);
    const ys=outline.map(p=>holeY[i]+p[1]*sc*uy);
    traces.push({type:"scatter",mode:"lines",xaxis:xa,yaxis:ya,x:xs,y:ys,fill:"toself",fillcolor:color,opacity:sm||1,line:{width:0,shape:"spline",color:color},hoverinfo:"skip"});
  };
  const k=lobeScale[i], q=sideScale[i];
  [[topOuter,bandOuterColor],[topYellow,bandYellow],[topOrange,bandOrange],[topRed,bandRed],
   [botOuter,bandOuterColor],[botYellow,bandYellow],[botOrange,bandOrange],[botRed,bandRed]].forEach(b=>band(b[0],b[1],1,k));
  [-1,1].forEach(sd=>{
    band(sideTeal,sideTealColor,sd,q,tealOpacity[i]);band(sideCyan,sideCyanColor,sd,q);band(sideBlue,sideBlueColor,sd,q);
  });
  if(i===3){traces.push({type:"scatter",mode:"lines",xaxis:xa,yaxis:ya,x:streak25X,y:streak25Y,fill:"toself",fillcolor:"#C8E000",line:{width:0},hoverinfo:"skip"});}

  // hole
  traces.push({type:"scatter",mode:"markers",xaxis:xa,yaxis:ya,x:[holeX[i]],y:[holeY[i]],marker:{size:holeDiameter[i],color:"#fff",line:{width:0}},hoverinfo:"skip"});

  // arrows: weights by length
  const groups=[{min:30,max:1e9,w:2.4,m:9,o:1},{min:16,max:30,w:1.7,m:6.5,o:0.9},{min:9,max:16,w:1.1,m:4.2,o:0.6},{min:0,max:9,w:0.9,m:2.8,o:0.38}];
  groups.forEach(g=>{
    const lx=[],ly=[],hx=[],hy=[];
    allArrows[i].forEach(a=>{
      if(a[2]>=g.min&&a[2]<g.max){
        const d=a[3]||0;
        lx.push(a[0],a[0]+d,null);ly.push(a[1],a[1]+a[2],null);
        hx.push(a[0]+d);hy.push(a[1]+a[2]);
      }
    });
    traces.push({type:"scatter",mode:"lines",xaxis:xa,yaxis:ya,x:lx,y:ly,opacity:g.o*lineFade[i],line:{color:"#000",width:g.w},connectgaps:false,hoverinfo:"skip",cliponaxis:true});
    traces.push({type:"scatter",mode:"markers",xaxis:xa,yaxis:ya,x:hx,y:hy,opacity:g.o,marker:{symbol:"triangle-down",size:g.m,color:"#000",line:{width:0}},hoverinfo:"skip",cliponaxis:true});
  });

  // legend box
  shapes.push({type:"rect",xref:"paper",yref:"paper",x0:px(legendLeft[i]),x1:px(legendRight[i]),y0:py(legendTop[i]),y1:py(legendBottom[i]),fillcolor:"#FDFDFD",line:{width:0},layer:"above"});
  barColors[i].forEach((c,j)=>{
    shapes.push({type:"rect",xref:"paper",yref:"paper",x0:px(barLeft[i]),x1:px(barRight[i]),y0:py(barEdges[i][j]),y1:py(barEdges[i][j+1]),fillcolor:c,line:{width:0},layer:"above"});
  });
  text(stressTitle,titleX[i],titleY[i],27.5,"Liberation Serif",true);
  text(subtitles[i],subX[i],subY[i],subSizes[i],subFonts[i],false);
  allLabels[i].forEach((t,j)=>text(t,labelX[i],allLabelY[i][j],labelSize[i],"Liberation Serif",false));
  text(velocityTitle,velocityX[i],velocityY[i],27.5,"Liberation Serif",true);
  text(maxTexts[i],maxX[i],maxY[i],noteSize[i],"Liberation Serif",false);
  text(scaleTexts[i],maxX[i],scaleY[i],noteSize[i],"Liberation Serif",false);

  // caption
  annotations.push({text:"<i>α</i> = "+ang+"°",x:px(captionX[i]),y:py(captionY[i]),xref:"paper",yref:"paper",xanchor:"center",yanchor:"middle",showarrow:false,
    font:{size:75,family:"Liberation Serif",color:"#111"}});
});
// thin frame around the first panel
shapes.push({type:"line",xref:"paper",yref:"paper",x0:px(1199),x1:px(1199),y0:py(17),y1:py(1198),line:{color:"#222",width:1.5}});
shapes.push({type:"line",xref:"paper",yref:"paper",x0:px(19),x1:px(1199),y0:py(1198),y1:py(1198),line:{color:"#bbb",width:1.5}});

Plotly.newPlot("chart",traces,layout,{staticPlot:true,displayModeBar:false});
</script></body></html>
